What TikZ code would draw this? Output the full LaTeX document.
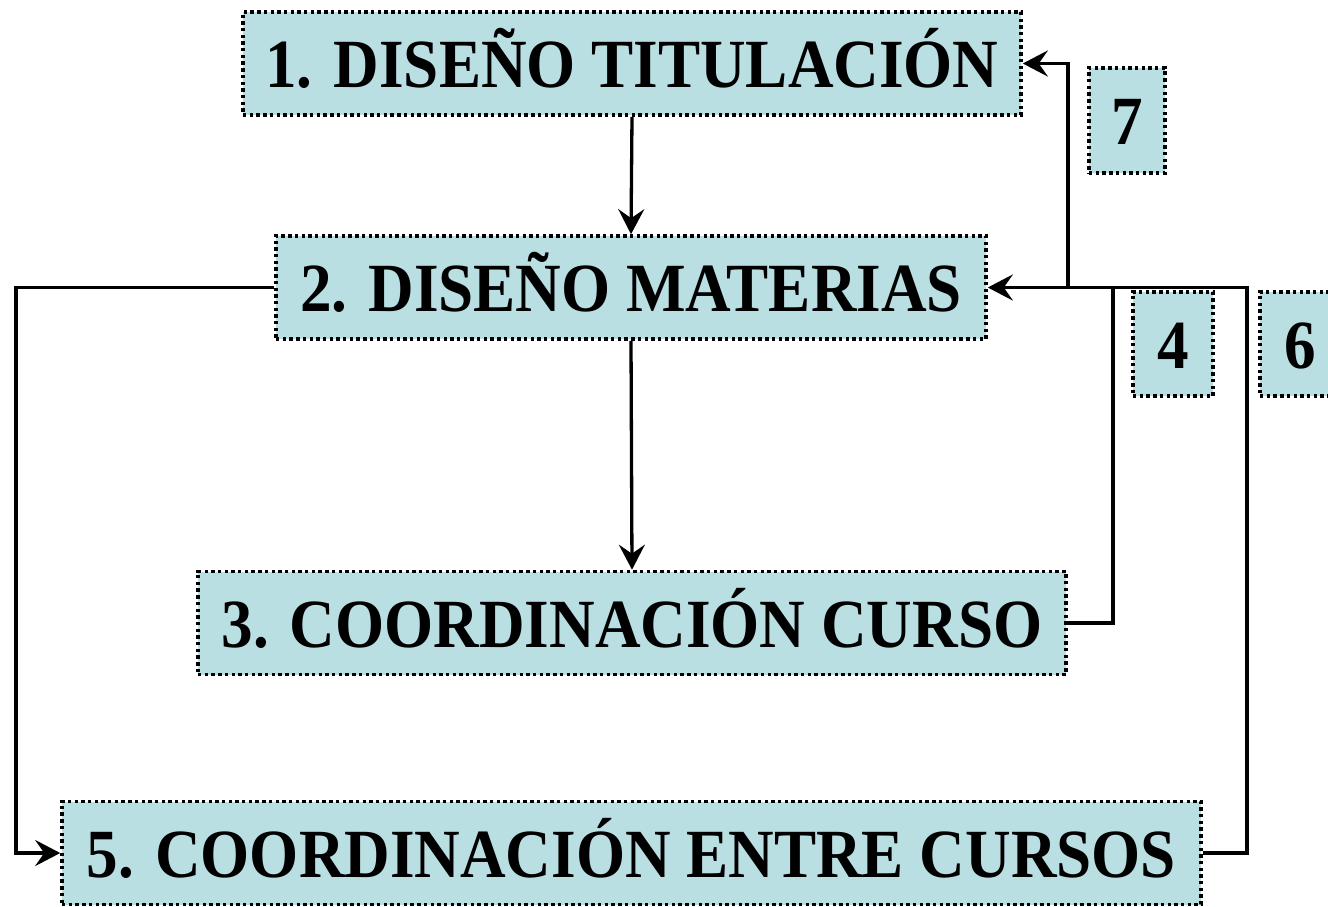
\documentclass[tikz,border=0pt]{standalone}
\usepackage{fontspec}
\setmainfont[FakeStretch=0.915]{Liberation Serif}
\usetikzlibrary{arrows.meta}
\definecolor{boxfill}{HTML}{B9DFE3}
\tikzset{
  stage/.style={fill=boxfill, draw=black, line width=3.6pt, dash pattern=on 3.4pt off 3.3pt,
    inner sep=0pt, minimum height=103pt, text height=48pt, text depth=0pt,
    font=\fontsize{69}{80}\selectfont\bfseries},
  conn/.style={line width=3.3pt, -{Stealth[length=25pt,width=26pt,inset=9pt]}},
  plain/.style={line width=3.3pt}
}
\begin{document}
\begin{tikzpicture}[x=1pt,y=-1pt]
\useasboundingbox (0,0) rectangle (1328,906);
\node[stage, minimum width=778pt] (b1) at (632,63.5) {1. DISEÑO TITULACIÓN};
\node[stage, minimum width=710pt] (b2) at (631,287.5) {2. DISEÑO MATERIAS};
\node[stage, minimum width=868pt] (b3) at (632,623) {3. COORDINACIÓN CURSO};
\node[stage, minimum width=1139pt] (b5) at (631.5,853) {5. COORDINACIÓN ENTRE CURSOS};
\node[stage, minimum width=76pt, minimum height=105pt] (b7) at (1127,120.5) {7};
\node[stage, minimum width=80pt, minimum height=104pt] (b4) at (1173,344) {4};
\node[stage, minimum width=80pt, minimum height=104pt] (b6) at (1300,344) {6};
\coordinate (j1) at (1113,287.5);
\coordinate (j2) at (1247,287.5);
\coordinate (j3) at (1068,287.5);
\coordinate (l1) at (16,287.5);
\draw[conn] (b1.south) -- (b2.north);
\draw[conn] (b2.south) -- (b3.north);
\draw[conn] (b2.west) -- (l1) |- (b5.west);
\draw[plain] (b3.east) -| (j1);
\draw[plain] (b5.east) -| (j2) -- (j1);
\draw[conn] (j1) -- (b2.east);
\draw[conn] (j3) |- (b1.east);
\end{tikzpicture}
\end{document}
